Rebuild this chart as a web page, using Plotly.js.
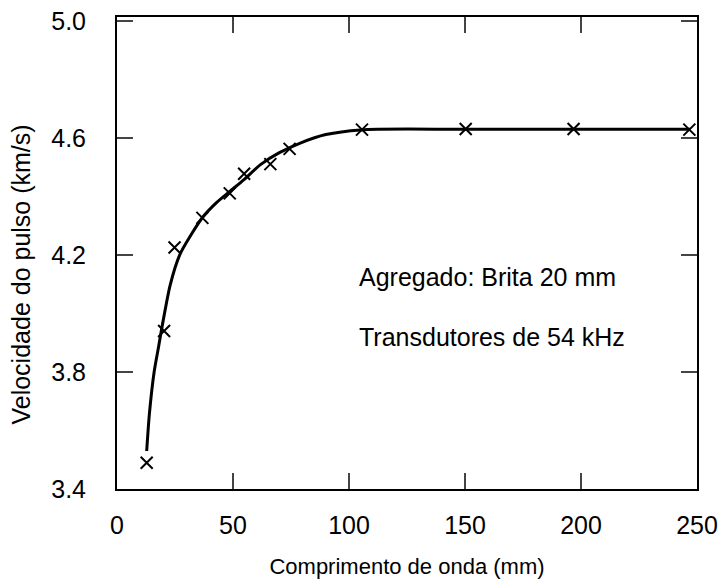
<!DOCTYPE html>
<html><head><meta charset="utf-8">
<script src="https://cdn.plot.ly/plotly-3.0.1.min.js"></script>
<style>body{margin:0;background:#fff}#c{width:726px;height:584px}</style>
</head><body><div id="c"></div>
<script>
const pointX = [12.8, 20.3, 24.8, 36.8, 48.6, 54.8, 66.1, 74.4, 105.6, 150.3, 196.8, 246.7];
const pointY = [3.49, 3.94, 4.226, 4.327, 4.411, 4.478, 4.511, 4.563, 4.629, 4.631, 4.631, 4.629];
const curveX = [12.8, 14, 16, 18, 20, 23, 27, 32, 37, 43, 49, 55, 62, 70, 79, 90, 105, 150, 200, 247];
const curveY = [3.53, 3.66, 3.80, 3.89, 3.98, 4.10, 4.20, 4.27, 4.33, 4.38, 4.42, 4.46, 4.51, 4.55, 4.583, 4.612, 4.628, 4.63, 4.63, 4.63];
const xTicks = [0, 50, 100, 150, 200, 250];
const yTicks = [3.4, 3.8, 4.2, 4.6, 5.0];
const yTickText = ['3.4', '3.8', '4.2', '4.6', '5.0'];
const xTitle = 'Comprimento de onda (mm)';
const yTitle = 'Velocidade do pulso (km/s)';
const notes = ['Agregado: Brita 20 mm', 'Transdutores de 54 kHz'];
const notesY = [4.126, 3.92];

const F = 'Liberation Sans, Arial, sans-serif';
const traces = [
  {x: curveX, y: curveY, mode: 'lines', line: {color: '#000', width: 3, shape: 'spline', smoothing: 0.8}, hoverinfo: 'skip'},
  {x: pointX, y: pointY, mode: 'markers', marker: {symbol: 'x-thin', size: 12, line: {color: '#000', width: 2}}}
];
const layout = {
  width: 726, height: 584, showlegend: false,
  paper_bgcolor: '#fff', plot_bgcolor: '#fff',
  margin: {l: 117, r: 29, t: 17, b: 95},
  font: {family: F, color: '#000', size: 25},
  xaxis: {range: [0, 250], tickvals: xTicks, ticks: 'inside', ticklen: 16, tickwidth: 1.5,
    showline: true, linewidth: 2, linecolor: '#000', mirror: 'ticks', showgrid: false, zeroline: false,
    ticklabelstandoff: 13, tickfont: {size: 25},
    title: {text: xTitle, font: {size: 22}, standoff: 21}},
  yaxis: {range: [3.4, 5.014], tickvals: yTicks, ticktext: yTickText, ticks: 'inside', ticklen: 16, tickwidth: 1.5,
    showline: true, linewidth: 2, linecolor: '#000', mirror: 'ticks', showgrid: false, zeroline: false,
    ticklabelstandoff: 24, tickfont: {size: 25}},
  annotations: notes.map((t, i) => ({x: 103.6, y: notesY[i], xref: 'x', yref: 'y', text: t, showarrow: false,
    xanchor: 'left', yanchor: 'middle', font: {size: 25}})).concat([
    {x: -0.165, y: 0.455, xref: 'paper', yref: 'paper', text: yTitle, textangle: -90, showarrow: false,
     xanchor: 'center', yanchor: 'middle', font: {size: 25}}])
};
Plotly.newPlot('c', traces, layout, {displayModeBar: false, staticPlot: true});
</script></body></html>
